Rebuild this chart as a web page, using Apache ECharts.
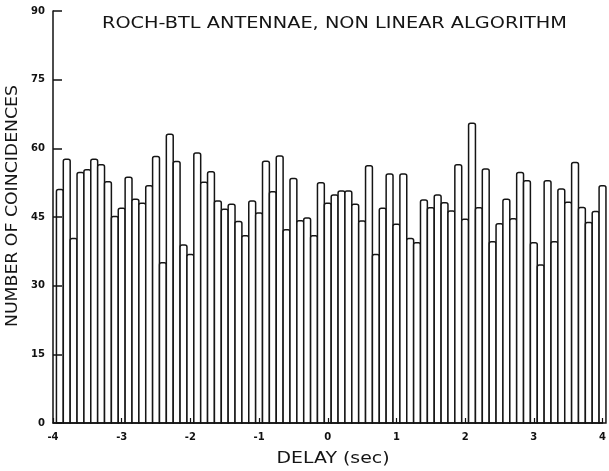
<!DOCTYPE html>
<html>
<head>
<meta charset="utf-8">
<script src="https://cdn.jsdelivr.net/npm/echarts@6/dist/echarts.min.js"></script>
<style>
html,body{margin:0;padding:0;background:#fff;}
#chart{width:609px;height:471px;}
</style>
</head>
<body>
<div id="chart"></div>
<script>
// Bar centres (delay, seconds)
var delays = [-3.9,-3.8,-3.7,-3.6,-3.5,-3.4,-3.3,-3.2,-3.1,-3.0,
  -2.9,-2.8,-2.7,-2.6,-2.5,-2.4,-2.3,-2.2,-2.1,-2.0,
  -1.9,-1.8,-1.7,-1.6,-1.5,-1.4,-1.3,-1.2,-1.1,-1.0,
  -0.9,-0.8,-0.7,-0.6,-0.5,-0.4,-0.3,-0.2,-0.1,0.0,
  0.1,0.2,0.3,0.4,0.5,0.6,0.7,0.8,0.9,1.0,
  1.1,1.2,1.3,1.4,1.5,1.6,1.7,1.8,1.9,2.0,
  2.1,2.2,2.3,2.4,2.5,2.6,2.7,2.8,2.9,3.0,
  3.1,3.2,3.3,3.4,3.5,3.6,3.7,3.8,3.9,4.0];
// Number of coincidences per delay bin
var counts = [51.0,57.6,40.3,54.7,55.3,57.6,56.4,52.7,45.1,46.9,
  53.7,48.9,48.0,51.8,58.2,35.0,63.1,57.1,38.9,36.8,
  59.0,52.6,54.9,48.5,46.7,47.8,44.0,40.9,48.5,45.9,
  57.2,50.5,58.3,42.2,53.4,44.2,44.8,40.9,52.5,48.0,
  49.8,50.7,50.7,47.8,44.1,56.2,36.8,46.9,54.4,43.4,
  54.4,40.3,39.4,48.7,47.0,49.8,48.1,46.3,56.4,44.5,
  65.5,47.0,55.5,39.6,43.5,48.9,44.6,54.7,52.9,39.4,
  34.5,52.9,39.6,51.1,48.2,56.9,47.1,43.8,46.2,51.8];
var binWidth = 0.1;
var yTicks = [0, 15, 30, 45, 60, 75, 90];
var xTicks = [-4, -3, -2, -1, 0, 1, 2, 3, 4];
var titleText = 'ROCH-BTL ANTENNAE, NON LINEAR ALGORITHM';
var yName = 'NUMBER OF COINCIDENCES';
var xName = 'DELAY (sec)';

var FONT = '"DejaVu Sans", sans-serif';
var mctx = document.createElement('canvas').getContext('2d');
function widthOf(t, size) { mctx.font = size + 'px ' + FONT; return mctx.measureText(t).width; }

var data = delays.map(function (d, i) { return [d, counts[i]]; });

var chart = echarts.init(document.getElementById('chart'), null, {renderer: 'canvas'});
chart.setOption({
  animation: false,
  backgroundColor: '#fff',
  grid: {left: 53, top: 11, width: 555, height: 412, containLabel: false},
  xAxis: {
    type: 'value', min: xTicks[0], max: xTicks[xTicks.length - 1], interval: 1,
    z: 5,
    axisLine: {show: true, onZero: false, lineStyle: {color: '#111', width: 1.5}},
    axisTick: {show: true, inside: true, length: 5, lineStyle: {color: '#111', width: 1.2}},
    axisLabel: {color: '#111', fontSize: 10, fontFamily: FONT, fontWeight: 'bold', margin: 9, showMinLabel: true, showMaxLabel: true},
    splitLine: {show: false}
  },
  yAxis: {
    type: 'value', min: yTicks[0], max: yTicks[yTicks.length - 1], interval: 15,
    z: 5,
    axisLine: {show: true, onZero: false, lineStyle: {color: '#111', width: 1.5}},
    axisTick: {show: true, inside: true, length: 9, lineStyle: {color: '#111', width: 1.5}},
    axisLabel: {color: '#111', fontSize: 10, fontFamily: FONT, fontWeight: 'bold', margin: 8},
    splitLine: {show: false}
  },
  series: [{
    type: 'custom',
    clip: false,
    data: data,
    renderItem: function (params, api) {
      var x = api.value(0), y = api.value(1);
      var p0 = api.coord([x - binWidth / 2, 0]);
      var p1 = api.coord([x + binWidth / 2, y]);
      return {
        type: 'rect',
        shape: {x: p0[0], y: p1[1], width: p1[0] - p0[0], height: p0[1] - p1[1], r: [2, 2, 0, 0]},
        style: {fill: '#fff', stroke: '#151515', lineWidth: 1.5}
      };
    }
  }],
  graphic: [
    {type: 'text', x: 102, y: 24, scaleX: 465 / widthOf(titleText, 15),
      style: {text: titleText, fontSize: 15, fontFamily: FONT, fill: '#151515', align: 'left', verticalAlign: 'middle'}},
    {type: 'text', x: 13, y: 206, rotation: Math.PI / 2, scaleX: 242 / widthOf(yName, 15),
      style: {text: yName, fontSize: 15, fontFamily: FONT, fill: '#151515', align: 'center', verticalAlign: 'middle'}},
    {type: 'text', x: 333, y: 459, scaleX: 113 / widthOf(xName, 15),
      style: {text: xName, fontSize: 15, fontFamily: FONT, fill: '#151515', align: 'center', verticalAlign: 'middle'}}
  ]
});
</script>
</body>
</html>
